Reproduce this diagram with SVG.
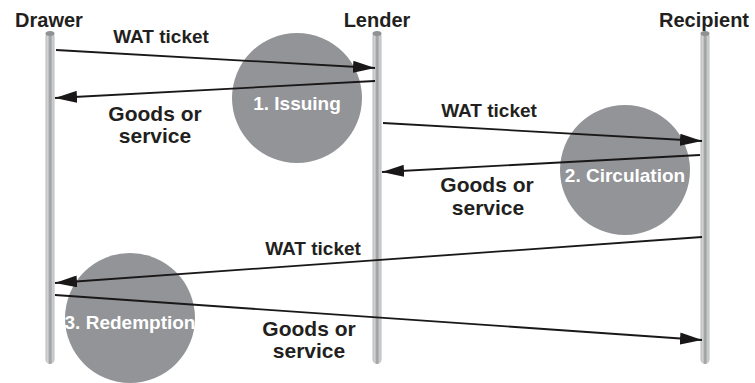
<svg xmlns="http://www.w3.org/2000/svg" width="755" height="383" viewBox="0 0 755 383">
<defs>
<style>
.hdr{font-family:"Liberation Sans",Arial,sans-serif;font-weight:bold;font-size:20px;fill:#231f20;text-anchor:middle}
.lbl{font-family:"Liberation Sans",Arial,sans-serif;font-weight:bold;font-size:19px;fill:#231f20;text-anchor:middle}
.lbl2{font-family:"Liberation Sans",Arial,sans-serif;font-weight:bold;font-size:21px;fill:#231f20;text-anchor:middle}
.stage{font-family:"Liberation Sans",Arial,sans-serif;font-weight:bold;font-size:19px;fill:#ffffff;text-anchor:middle}
.circle{fill:#929497}
.msg{stroke:#1a1718;stroke-width:1.8;fill:none;marker-end:url(#ah)}
.life{fill:url(#lg)}
.cap{fill:#909193}
</style>
<linearGradient id="lg" x1="0" y1="0" x2="1" y2="0">
<stop offset="0" stop-color="#b9babc"/>
<stop offset="0.25" stop-color="#d4d5d7"/>
<stop offset="0.45" stop-color="#a3a4a6"/>
<stop offset="0.6" stop-color="#a3a4a6"/>
<stop offset="0.8" stop-color="#cfd0d2"/>
<stop offset="1" stop-color="#b9babc"/>
</linearGradient>
<marker id="ah" markerUnits="userSpaceOnUse" markerWidth="24" markerHeight="12" refX="22" refY="6" orient="auto">
<path d="M0,0 L22,6 L0,12 Z" fill="#1a1718"/>
</marker>
</defs>
<rect width="755" height="383" fill="#ffffff"/>

<g id="stage1">
<circle class="circle" cx="297" cy="98" r="65"/>
<text class="stage" x="297" y="110">1. Issuing</text>
</g>
<g id="stage2">
<circle class="circle" cx="625" cy="170" r="65"/>
<text class="stage" x="625" y="182">2. Circulation</text>
</g>
<g id="stage3">
<circle class="circle" cx="130" cy="318" r="65"/>
<text class="stage" x="130" y="329">3. Redemption</text>
</g>

<g id="drawer">
<rect class="life" x="45.5" y="32" width="9" height="332" rx="4.5"/>
<ellipse class="cap" cx="50" cy="33.5" rx="4.5" ry="2.5"/>
<text class="hdr" x="49" y="27">Drawer</text>
</g>
<g id="lender">
<rect class="life" x="372.5" y="32" width="9" height="332" rx="4.5"/>
<ellipse class="cap" cx="377" cy="33.5" rx="4.5" ry="2.5"/>
<text class="hdr" x="377" y="27">Lender</text>
</g>
<g id="recipient">
<rect class="life" x="700.5" y="32" width="9" height="332" rx="4.5"/>
<ellipse class="cap" cx="705" cy="33.5" rx="4.5" ry="2.5"/>
<text class="hdr" x="704" y="27">Recipient</text>
</g>

<g id="connectors">
<line class="msg" x1="56" y1="50" x2="375" y2="68"/>
<line class="msg" x1="375" y1="81" x2="55" y2="98"/>
<line class="msg" x1="383" y1="123" x2="702" y2="141"/>
<line class="msg" x1="700" y1="155" x2="382" y2="172"/>
<line class="msg" x1="702" y1="237" x2="55" y2="283"/>
<line class="msg" x1="55" y1="295" x2="702" y2="340"/>
</g>

<g id="labels">
<text class="lbl" x="161" y="43">WAT ticket</text>
<text class="lbl2" x="155" y="121">Goods or</text>
<text class="lbl2" x="155" y="143">service</text>
<text class="lbl" x="489" y="117">WAT ticket</text>
<text class="lbl2" x="487" y="192">Goods or</text>
<text class="lbl2" x="488" y="215">service</text>
<text class="lbl" x="313" y="255">WAT ticket</text>
<text class="lbl2" x="309" y="336">Goods or</text>
<text class="lbl2" x="309" y="358">service</text>
</g>
</svg>
